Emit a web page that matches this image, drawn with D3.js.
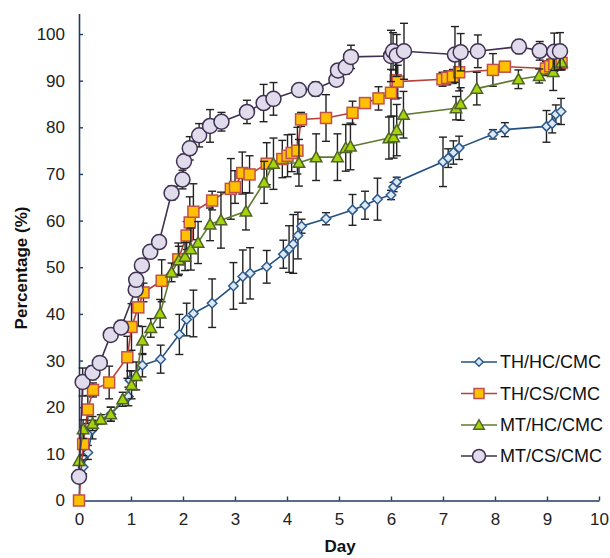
<!DOCTYPE html>
<html>
<head>
<meta charset="utf-8">
<script src="https://cdn.jsdelivr.net/npm/d3@7/dist/d3.min.js"></script>
<style>
  html, body { margin: 0; padding: 0; background: #fff; }
  svg { display: block; font-family: "Liberation Sans", Arial, sans-serif; }
</style>
</head>
<body>
<svg id="chart" width="610" height="558"></svg>
<script>
// Release profiles: day, percentage, ± error
const thHcDay = [0.08, 0.17, 0.26, 0.61, 0.95, 0.98, 1.22, 1.57, 1.93, 2.07, 2.2, 2.56, 2.97, 3.15, 3.29, 3.61, 3.93, 4.04, 4.12, 4.21, 4.28, 4.75, 5.26, 5.5, 5.74, 6.0, 6.05, 6.11, 7.0, 7.1, 7.2, 7.31, 7.96, 8.19, 8.99, 9.1, 9.17, 9.27];
const thHcVal = [7.2, 10.3, 15.2, 18.5, 22.3, 25.8, 29.0, 30.3, 35.6, 38.8, 40.1, 42.3, 46.0, 48.0, 48.7, 50.1, 52.8, 53.9, 55.0, 56.8, 58.8, 60.4, 62.3, 63.3, 64.6, 65.5, 67.2, 68.3, 72.6, 73.4, 74.6, 75.6, 78.5, 79.5, 80.2, 80.8, 82.8, 83.4];
const thHcErr = [1.5, 1.5, 2.0, 1.5, 2.0, 2.0, 2.5, 3.0, 4.3, 3.5, 5.0, 5.2, 5.0, 5.7, 5.5, 3.5, 3.0, 5.0, 6.3, 5.0, 1.5, 1.3, 3.3, 3.0, 4.5, 1.0, 1.0, 1.0, 5.3, 2.0, 2.5, 2.5, 1.0, 1.5, 3.4, 2.0, 2.0, 2.8];

const thCsDay = [0, 0.08, 0.17, 0.27, 0.58, 0.93, 1.01, 1.14, 1.24, 1.59, 1.91, 2.07, 2.13, 2.2, 2.56, 2.92, 3.0, 3.14, 3.28, 3.61, 3.91, 4.01, 4.09, 4.2, 4.27, 4.75, 5.26, 5.5, 5.76, 6.0, 6.09, 6.13, 6.99, 7.08, 7.19, 7.31, 7.96, 8.19, 8.98, 9.06, 9.14, 9.28];
const thCsVal = [0, 12.1, 19.5, 23.7, 25.3, 30.7, 37.2, 41.4, 44.6, 47.1, 51.7, 56.8, 59.6, 61.9, 64.3, 66.8, 67.2, 70.2, 69.9, 72.2, 73.2, 73.9, 74.5, 75.0, 81.7, 82.0, 83.1, 85.2, 86.2, 87.4, 90.1, 89.8, 90.3, 90.6, 90.9, 91.8, 92.3, 93.0, 92.6, 93.1, 93.5, 93.8];
const thCsErr = [0, 2.5, 3.0, 1.5, 3.5, 4.5, 5.0, 4.0, 2.0, 4.5, 3.5, 3.0, 5.5, 6.0, 2.0, 6.5, 3.5, 4.5, 4.0, 4.5, 4.0, 4.5, 4.0, 5.0, 1.5, 5.0, 2.5, 1.0, 2.5, 5.0, 4.0, 3.5, 1.5, 1.5, 1.5, 4.0, 3.5, 1.0, 1.5, 1.5, 1.5, 1.5];

const mtHcDay = [0, 0.08, 0.26, 0.42, 0.61, 0.84, 1.01, 1.1, 1.22, 1.38, 1.56, 1.78, 1.92, 2.04, 2.15, 2.29, 2.52, 2.73, 3.21, 3.56, 3.74, 4.23, 4.56, 4.97, 5.13, 5.22, 5.96, 6.05, 6.11, 6.24, 7.25, 7.34, 7.65, 8.45, 8.85, 9.12, 9.28];
const mtHcVal = [8.5, 15.3, 16.5, 17.4, 18.5, 21.7, 24.8, 26.7, 34.3, 37.0, 40.1, 48.9, 51.5, 52.3, 53.9, 55.3, 59.2, 60.1, 62.0, 68.2, 72.2, 72.4, 73.6, 73.6, 75.6, 75.9, 77.7, 77.9, 79.4, 82.7, 84.1, 85.0, 88.3, 90.3, 91.0, 91.9, 93.9];
const mtHcErr = [0, 2.0, 1.5, 1.0, 1.5, 1.5, 3.0, 3.0, 3.0, 2.0, 3.0, 2.0, 3.0, 3.0, 4.5, 4.5, 3.5, 6.0, 4.0, 4.5, 5.5, 5.0, 5.0, 5.0, 5.0, 5.0, 4.5, 4.5, 5.5, 5.0, 2.5, 3.5, 3.5, 2.0, 1.5, 4.0, 1.5];

const mtCsDay = [0, 0.07, 0.26, 0.4, 0.61, 0.81, 1.09, 1.1, 1.21, 1.37, 1.54, 1.78, 1.99, 2.02, 2.13, 2.31, 2.52, 2.74, 3.23, 3.55, 3.74, 4.23, 4.55, 4.95, 4.98, 5.13, 5.23, 6.0, 6.04, 6.11, 6.25, 7.23, 7.34, 7.67, 8.46, 8.86, 9.14, 9.25];
const mtCsVal = [5.1, 25.4, 27.4, 29.5, 35.5, 37.1, 45.2, 47.3, 50.4, 53.3, 55.4, 65.9, 68.8, 72.7, 75.5, 78.3, 80.3, 81.2, 83.3, 85.2, 86.1, 88.0, 88.2, 90.2, 92.2, 92.9, 95.1, 95.3, 96.3, 95.4, 96.3, 95.6, 96.1, 96.3, 97.3, 96.4, 96.2, 96.3];
const mtCsErr = [0, 3.0, 1.5, 0, 0, 1.5, 0, 0, 0, 0, 0, 1.5, 2.0, 1.5, 2.5, 2.5, 3.5, 2.0, 2.5, 4.0, 3.5, 1.0, 1.5, 1.0, 0, 1.5, 2.5, 5.5, 4.0, 4.5, 6.0, 6.0, 4.0, 3.5, 1.5, 2.0, 4.0, 4.0];

const xTicks = [0, 1, 2, 3, 4, 5, 6, 7, 8, 9, 10];
const yTicks = [0, 10, 20, 30, 40, 50, 60, 70, 80, 90, 100];
const seriesNames = ["TH/HC/CMC", "TH/CS/CMC", "MT/HC/CMC", "MT/CS/CMC"];

const svg = d3.select("#chart");
const x = d3.scaleLinear().domain([0, 10]).range([79, 599]);
const y = d3.scaleLinear().domain([0, 104.4]).range([500.5, 13.5]);
const axisColor = "#1f3a5f";

const series = [
  { name: seriesNames[0], day: thHcDay, val: thHcVal, err: thHcErr, line: "#23507f", fill: "#dde9f6", stroke: "#2c5a8c", shape: "diamond", size: 9.5 },
  { name: seriesNames[1], day: thCsDay, val: thCsVal, err: thCsErr, line: "#b8403a", fill: "#ffc000", stroke: "#c0504d", shape: "square", size: 11 },
  { name: seriesNames[2], day: mtHcDay, val: mtHcVal, err: mtHcErr, line: "#5f7a2e", fill: "#a6d40a", stroke: "#4f6228", shape: "triangle", size: 11.5 },
  { name: seriesNames[3], day: mtCsDay, val: mtCsVal, err: mtCsErr, line: "#3f3151", fill: "#e1dcec", stroke: "#3f3151", shape: "circle", size: 15 }
];

function drawMarker(g, shape, s, fill, stroke) {
  const h = s / 2;
  let el;
  if (shape === "circle") {
    el = g.append("circle").attr("r", h);
  } else if (shape === "square") {
    el = g.append("rect").attr("x", -h).attr("y", -h).attr("width", s).attr("height", s);
  } else if (shape === "diamond") {
    el = g.append("path").attr("d", `M0,${-h}L${h},0L0,${h}L${-h},0Z`);
  } else {
    el = g.append("path").attr("d", `M0,${-h}L${h},${h * 0.8}L${-h},${h * 0.8}Z`);
  }
  el.attr("fill", fill).attr("stroke", stroke).attr("stroke-width", 1.5);
}

// Axes
const xAxis = d3.axisBottom(x).tickValues(xTicks).tickSizeInner(-4).tickSizeOuter(0).tickPadding(12);
const gx = svg.append("g").attr("transform", "translate(0,500.5)").call(xAxis);
const yAxis = d3.axisLeft(y).tickValues(yTicks).tickSizeInner(-4).tickSizeOuter(0).tickPadding(14);
const gy = svg.append("g").attr("transform", "translate(79,0)").call(yAxis);
[gx, gy].forEach(g => {
  g.select(".domain").attr("stroke", axisColor).attr("stroke-width", 1.6);
  g.selectAll(".tick line").attr("stroke", axisColor).attr("stroke-width", 1.4);
  g.selectAll(".tick text").attr("fill", "#222").style("font-size", "17px").style("font-family", "'Liberation Sans', Arial, sans-serif");
});

svg.append("text").attr("x", 340).attr("y", 552).attr("text-anchor", "middle")
  .style("font-size", "17px").style("font-weight", "bold").attr("fill", "#111").text("Day");
svg.append("text").attr("transform", "translate(27,268) rotate(-90)").attr("text-anchor", "middle")
  .style("font-size", "17px").style("font-weight", "bold").attr("fill", "#111").text("Percentage (%)");

// Series: error bars, connecting line, markers
series.forEach(s => {
  const pts = s.day.map((d, i) => ({ d, v: s.val[i], e: s.err[i] }));
  const g = svg.append("g");
  const eb = g.append("g").attr("stroke", "#222").attr("stroke-width", 1.4);
  pts.filter(p => p.e > 0).forEach(p => {
    const cx = x(p.d), y1 = y(p.v - p.e), y2 = y(p.v + p.e);
    eb.append("line").attr("x1", cx).attr("x2", cx).attr("y1", y1).attr("y2", y2);
    eb.append("line").attr("x1", cx - 4).attr("x2", cx + 4).attr("y1", y1).attr("y2", y1);
    eb.append("line").attr("x1", cx - 4).attr("x2", cx + 4).attr("y1", y2).attr("y2", y2);
  });
  g.append("path").datum(pts)
    .attr("d", d3.line().x(p => x(p.d)).y(p => y(p.v)))
    .attr("fill", "none").attr("stroke", s.line).attr("stroke-width", 1.6);
  pts.forEach(p => {
    const m = g.append("g").attr("transform", `translate(${x(p.d)},${y(p.v)})`);
    drawMarker(m, s.shape, s.size, s.fill, s.stroke);
  });
});

// Legend
const legendY = [362, 393.5, 425, 456];
series.forEach((s, i) => {
  const g = svg.append("g").attr("transform", `translate(0,${legendY[i]})`);
  g.append("line").attr("x1", 461).attr("x2", 497).attr("y1", 0).attr("y2", 0)
    .attr("stroke", s.line).attr("stroke-width", 1.6);
  const m = g.append("g").attr("transform", "translate(479,0)");
  drawMarker(m, s.shape, s.shape === "circle" ? 13 : s.size - 1, s.fill, s.stroke);
  g.append("text").attr("x", 500).attr("y", 0).attr("dy", "0.35em")
    .style("font-size", "18px").attr("fill", "#111").text(s.name);
});
</script>
</body>
</html>
